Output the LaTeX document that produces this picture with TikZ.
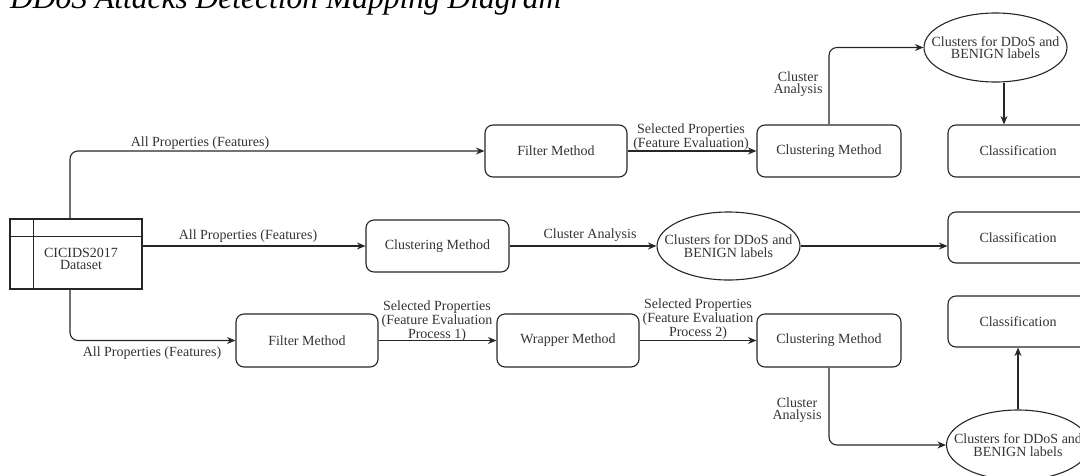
\documentclass[tikz,border=0pt]{standalone}
\usepackage{fontspec}
\setmainfont{Liberation Serif}
\usetikzlibrary{arrows.meta,shapes.geometric}
\begin{document}
\begin{tikzpicture}[x=1pt,y=-1pt,
  line/.style={draw=black!85, line width=1.1pt},
  arr/.style={line, -{Stealth[length=8.5pt,width=7pt]}, rounded corners=8pt},
  txt/.style={font=\fontsize{14}{12.5}\selectfont, text=black!80, align=center},
  box/.style={line, txt, rounded corners=8pt, inner sep=0pt},
  ell/.style={ellipse, line, inner sep=0pt, minimum width=143pt},
  lbl/.style={txt, inner sep=0pt}
]
\useasboundingbox (0,0) rectangle (1080,475);

\node[anchor=base west, inner sep=0pt, font=\fontsize{31.5}{31.5}\selectfont\itshape, text=black] (title) at (10,8.5) {DDoS Attacks Detection Mapping Diagram};

% dataset
\node[line, minimum width=132pt, minimum height=70pt, inner sep=0pt] (ds) at (76,254) {};
\draw[line] ([xshift=24pt]ds.north west) -- ([xshift=24pt]ds.south west);
\draw[line] ([yshift=-18pt]ds.north west) -- ([yshift=-18pt]ds.north east);
\node[lbl] (dstext) at (81,259) {CICIDS2017\\Dataset};

% top row
\node[box, minimum width=142pt, minimum height=52pt] (filter1) at (556,151) {Filter Method};
\node[box, minimum width=144pt, minimum height=52pt] (clus1) at (829,151) {Clustering Method};
\node[box, minimum width=140pt, minimum height=52pt] (cls1) at (1018,151) {Classification};
\node[ell, minimum height=69pt] (ell1) at (995.5,47.5) {};
\node[lbl] (ell1t) at (ell1.center) {Clusters for DDoS and\\BENIGN labels};

% middle row
\node[box, minimum width=143pt, minimum height=52pt] (clus2) at (437.5,246) {Clustering Method};
\node[ell, minimum height=68pt] (ell2) at (728.5,246) {};
\node[lbl] (ell2t) at (ell2.center) {Clusters for DDoS and\\BENIGN labels};
\node[box, minimum width=140pt, minimum height=51pt] (cls2) at (1018,237.5) {Classification};

% bottom row
\node[box, minimum width=142pt, minimum height=53pt] (filter3) at (307,340.5) {Filter Method};
\node[box, minimum width=142pt, minimum height=53pt] (wrap) at (568,340.5) {Wrapper Method};
\node[box, minimum width=144pt, minimum height=53pt] (clus3) at (829,340.5) {Clustering Method};
\node[box, minimum width=140pt, minimum height=51pt] (cls3) at (1018,321.5) {Classification};
\node[ell, minimum height=70pt] (ell3) at (1018,445) {};
\node[lbl] (ell3t) at (ell3.center) {Clusters for DDoS and\\BENIGN labels};

% connectors
\draw[arr] ([xshift=-6pt]ds.north) |- (filter1.west);
\draw[arr] (ds.east |- clus2.west) -- (clus2.west);
\draw[arr] ([xshift=-6pt]ds.south) |- (filter3.west);
\draw[arr] (filter1) -- (clus1);
\draw[arr] (clus1.north) |- (ell1.west);
\draw[arr] ([xshift=8.5pt]ell1.south) -- ([xshift=8.5pt]ell1.south |- cls1.north);
\draw[arr] (clus2) -- (ell2);
\draw[arr] (ell2.east) -- (ell2.east -| cls2.west);
\draw[arr] (filter3) -- (wrap);
\draw[arr] (wrap) -- (clus3);
\draw[arr] (clus3.south) |- (ell3.west);
\draw[arr] (ell3.north) -- (cls3.south);

% labels
\node[lbl] (l1) at (200,143) {All Properties (Features)};
\node[lbl] (l2) at (248,236) {All Properties (Features)};
\node[lbl] (l3) at (152,353) {All Properties (Features)};
\node[lbl] (l4) at (691,137) {Selected Properties\\(Feature Evaluation)};
\node[lbl] (l5) at (590,235) {Cluster Analysis};
\node[lbl] (l6) at (798,84) {Cluster\\Analysis};
\node[lbl] (l7) at (437,321) {Selected Properties\\(Feature Evaluation\\Process 1)};
\node[lbl] (l8) at (698,319) {Selected Properties\\(Feature Evaluation\\Process 2)};
\node[lbl] (l9) at (797,410) {Cluster\\Analysis};
\end{tikzpicture}
\end{document}
